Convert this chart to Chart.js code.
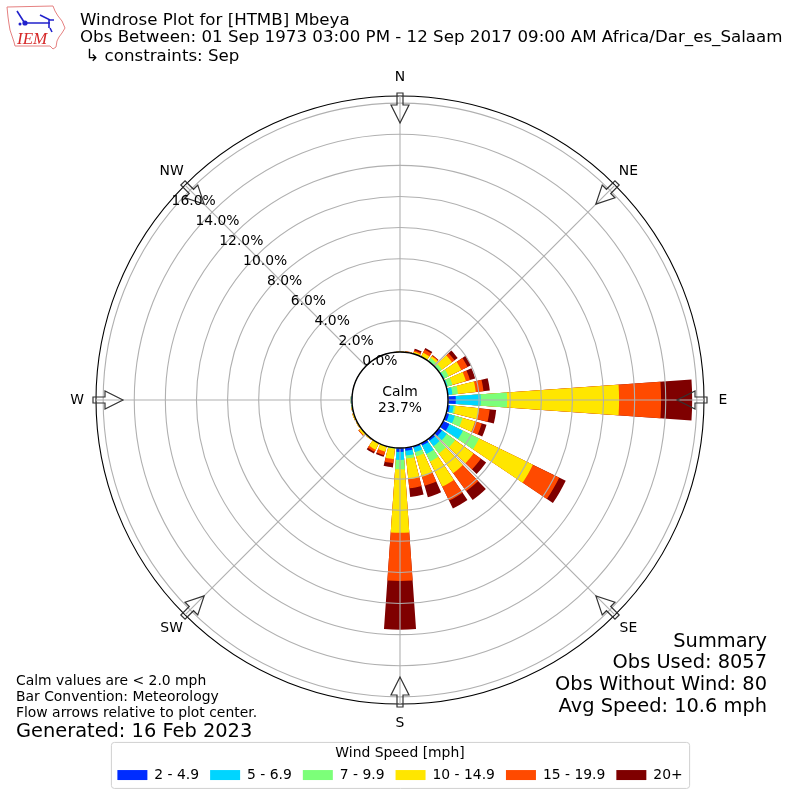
<!DOCTYPE html>
<html>
<head>
<meta charset="utf-8">
<title>Windrose Plot</title>
<script src="https://cdn.jsdelivr.net/npm/chart.js@4/dist/chart.umd.min.js"></script>
<style>
body { margin: 0; background: #fff; font-family: "DejaVu Sans"; color: #000; }
#wrap { position: relative; width: 800px; height: 800px; overflow: hidden; }
#wrap canvas { position: absolute; left: 0; top: 0; }
.txt { position: absolute; white-space: pre; }
#logo { position: absolute; left: 0; top: 0; }
</style>
</head>
<body>
<div id="wrap">
  <canvas id="rose" width="800" height="800"></canvas>
  <svg id="logo" width="80" height="55">
    <polygon points="7,7 53,6 55,11 58,16 62,21 65,28 62,33 59,37 57,41 56,47 53,49 50,46 15,46 14,42 12,36 10,30 9,24 8,17" fill="#fff" stroke="#e58080" stroke-width="1"/>
    <path d="M25 23 H50 M17 11 L24 22 M40 15 L50 20 H54 M49 20 V28 M50 28 L52 32" stroke="#2222cc" stroke-width="1.6" fill="none"/>
    <circle cx="25" cy="23" r="2.6" fill="#2222cc"/>
    <circle cx="20" cy="24" r="1.5" fill="#2222cc"/>
    <text x="17" y="44" font-family="Liberation Serif" font-style="italic" font-size="17" fill="#d62828">IEM</text>
  </svg>
  <div class="txt" style="left:80px;top:10px;font-size:16.67px">Windrose Plot for [HTMB] Mbeya</div>
  <div class="txt" style="left:80px;top:27px;font-size:16.67px">Obs Between: 01 Sep 1973 03:00 PM - 12 Sep 2017 09:00 AM Africa/Dar_es_Salaam</div>
  <div class="txt" style="left:80px;top:46px;font-size:16.67px"> ↳ constraints: Sep</div>
  <div class="txt" style="left:16px;top:672px;font-size:13.9px">Calm values are &lt; 2.0 mph</div>
  <div class="txt" style="left:16px;top:688px;font-size:13.9px">Bar Convention: Meteorology</div>
  <div class="txt" style="left:16px;top:704px;font-size:13.9px">Flow arrows relative to plot center.</div>
  <div class="txt" style="left:16px;top:719px;font-size:19.4px">Generated: 16 Feb 2023</div>
  <div class="txt" style="right:33px;top:629px;font-size:19.4px">Summary</div>
  <div class="txt" style="right:33px;top:650px;font-size:19.4px">Obs Used: 8057</div>
  <div class="txt" style="right:33px;top:672px;font-size:19.4px">Obs Without Wind: 80</div>
  <div class="txt" style="right:33px;top:694px;font-size:19.4px">Avg Speed: 10.6 mph</div>
</div>
<script>
// direction of each bar, degrees clockwise from north
const directions = [0,10,20,30,40,50,60,70,80,90,100,110,120,130,140,150,160,170,180,190,200,210,220,230,240,250,260,270,280,290,300,310,320,330,340,350];

// percent of obs per speed band, same order as directions
const band2to5   = [0,0,0,0,0,0,0,0,.05,.5,.13,.19,.45,.25,.15,.17,.1,.2,.25,0,0,0,0,0,0,0,.02,.02,0,0,0,0,0,0,0,0];
const band5to7   = [0,0,0,0,.05,.05,.1,.1,.25,1.6,.25,.39,.96,.39,.43,.6,.3,.3,.52,.02,0,0,0,0,0,0,.03,.06,0,0,0,0,0,0,0,0];
const band7to10  = [0,0,.02,.05,.2,.2,.3,.32,.36,1.7,.12,.51,1.16,.65,.58,.55,.28,.2,.6,.05,.02,.02,0,.02,0,.02,0,0,0,0,0,0,0,0,0,0];
const band10to15 = [.05,.05,.12,.25,.15,.8,.9,.9,1.15,7.2,1.53,.84,3.85,1.47,1.57,1.79,1.36,1.34,4.08,.67,.35,.45,.08,.15,.08,.08,.03,0,0,0,0,0,0,0,0,0];
const band15to20 = [0,.02,.1,.22,.05,.2,.45,.27,.5,2.7,.68,.45,1.88,.58,1.42,1.0,.61,.58,3.1,.26,.23,.15,0,.05,0,0,0,0,0,0,0,0,0,0,0,0];
const band20up   = [0,0,.1,.11,.03,.25,.25,.35,.41,2.0,.42,.32,.47,.42,.71,.56,.76,.56,3.13,.27,.11,.12,0,0,0,0,0,0,0,0,0,0,0,0,0,0];

const bands = [band2to5, band5to7, band7to10, band10to15, band15to20, band20up];
const bandLabels = ['2 - 4.9', '5 - 6.9', '7 - 9.9', '10 - 14.9', '15 - 19.9', '20+'];
const bandColors = ['#002cff', '#00d5ff', '#7cff79', '#ffe600', '#ff4a00', '#7f0000'];

const tickValues = [0,2,4,6,8,10,12,14,16];
const compass = ['N','NE','E','SE','S','SW','W','NW'];
const calmPct = '23.7%';

const R_MIN = -3.087; // 0% ring sits on the calm circle
const R_MAX = 16.46;
const BAR_DEG = 8, GAP_DEG = 2;
const FONT = '"DejaVu Sans"';

Chart.defaults.font.family = FONT;
Chart.defaults.color = '#000';

// polar area has no stacking, so each band is drawn as a running total, biggest behind
let running = directions.map(() => 0);
const datasets = bands.map((band, b) => {
    running = running.map((v, i) => v + band[i]);
    return {
        label: bandLabels[b],
        data: running.flatMap(v => [v, 0]), // bar then gap
        backgroundColor: bandColors[b],
        borderWidth: 0,
        angle: ctx => ctx.dataIndex % 2 ? GAP_DEG : BAR_DEG
    };
});

function toXY(scale, deg, dist) {
    const a = deg * Math.PI / 180;
    return [scale.xCenter + dist * Math.sin(a), scale.yCenter - dist * Math.cos(a)];
}

const rosePlugin = {
    id: 'rose',
    afterDraw(chart) {
        const ctx = chart.ctx, scale = chart.scales.r;
        const cx = scale.xCenter, cy = scale.yCenter;
        const outer = scale.drawingArea;
        ctx.save();

        // spokes
        ctx.strokeStyle = '#b0b0b0';
        ctx.lineWidth = 1.1;
        compass.forEach((c, i) => {
            const p = toXY(scale, i * 45, outer);
            ctx.beginPath(); ctx.moveTo(cx, cy); ctx.lineTo(p[0], p[1]); ctx.stroke();
        });

        // flow arrows, open outline pointing at the center
        ctx.strokeStyle = '#333';
        ctx.lineWidth = 1.2;
        compass.forEach((c, i) => {
            ctx.save();
            ctx.translate(cx, cy);
            ctx.rotate(i * Math.PI / 4);
            ctx.beginPath();
            ctx.moveTo(0, -(outer - 27));
            ctx.lineTo(9, -(outer - 9));
            ctx.lineTo(3, -(outer - 9));
            ctx.lineTo(3, -(outer + 3));
            ctx.lineTo(-3, -(outer + 3));
            ctx.lineTo(-3, -(outer - 9));
            ctx.lineTo(-9, -(outer - 9));
            ctx.closePath();
            ctx.stroke();
            ctx.restore();
        });

        // calm circle
        const hole = scale.getDistanceFromCenterForValue(0);
        ctx.beginPath();
        ctx.arc(cx, cy, hole, 0, Math.PI * 2);
        ctx.fillStyle = '#fff';
        ctx.fill();
        ctx.strokeStyle = '#000';
        ctx.lineWidth = 1.4;
        ctx.stroke();

        ctx.fillStyle = '#000';
        ctx.font = '13.9px ' + FONT;
        ctx.textAlign = 'center';
        ctx.textBaseline = 'middle';
        ctx.fillText('Calm', cx, cy - 8);
        ctx.fillText(calmPct, cx, cy + 8);

        // compass labels
        compass.forEach((c, i) => {
            const p = toXY(scale, i * 45, outer + 19);
            ctx.fillText(c, p[0], p[1]);
        });

        // ring labels
        ctx.textAlign = 'left';
        ctx.textBaseline = 'alphabetic';
        tickValues.forEach(v => {
            const p = toXY(scale, 310, scale.getDistanceFromCenterForValue(v));
            ctx.fillText(v.toFixed(1) + '%', p[0] - 1, p[1] - 4);
        });

        // legend frame
        const lg = chart.legend;
        const w = lg.lineWidths[0] + 2;
        ctx.strokeStyle = '#d0d0d0';
        ctx.lineWidth = 1;
        ctx.beginPath();
        ctx.roundRect(cx - w / 2 + 0.5, lg.top + 0.5, w, 46, 3);
        ctx.stroke();
        ctx.restore();
    }
};

new Chart(document.getElementById('rose'), {
    type: 'polarArea',
    data: { labels: directions.flatMap(d => [d + '°', '']), datasets: datasets },
    plugins: [rosePlugin],
    options: {
        responsive: false,
        animation: false,
        layout: { padding: { left: 96, right: 96, top: 60, bottom: 8 } },
        plugins: {
            tooltip: { enabled: false },
            legend: {
                position: 'bottom',
                title: { display: true, text: 'Wind Speed [mph]', font: { size: 13.9 }, color: '#000', padding: { top: 5, bottom: -6.5 } },
                labels: {
                    boxWidth: 30,
                    boxHeight: 10,
                    padding: 11,
                    font: { size: 13.9 },
                    color: '#000',
                    generateLabels: () => bandLabels.map((t, i) => ({ text: t, fillStyle: bandColors[i], strokeStyle: bandColors[i], lineWidth: 0, hidden: false, index: i }))
                }
            }
        },
        scales: {
            r: {
                min: R_MIN,
                max: R_MAX,
                startAngle: -BAR_DEG / 2,
                afterBuildTicks: s => { s.ticks = tickValues.concat([R_MAX]).map(v => ({ value: v })); },
                ticks: { display: false },
                angleLines: { display: false },
                pointLabels: { display: false },
                grid: {
                    z: 1,
                    circular: true,
                    lineWidth: 1.1,
                    color: c => c.tick && c.tick.value === R_MAX ? '#000' : '#b0b0b0'
                }
            }
        }
    }
});
</script>
</body>
</html>
